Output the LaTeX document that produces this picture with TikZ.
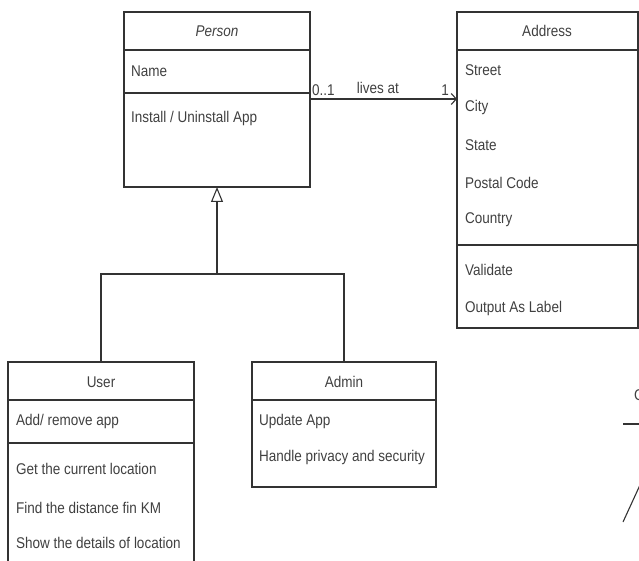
\documentclass[tikz,border=0pt]{standalone}
\usepackage{fontspec}
\setmainfont{Liberation Sans}
\usetikzlibrary{positioning,arrows.meta}

\begin{document}
\begin{tikzpicture}[x=1pt,y=-1pt,>={Straight Barb[length=5pt,width=11pt]},
  cls/.style={draw=black!80,line width=1.1pt,inner sep=0pt,outer sep=0pt,anchor=north west},
  txt/.style={text=black!75,font=\fontsize{13.5}{16}\selectfont,inner sep=0pt,yscale=1.15,transform shape},
  item/.style={txt,anchor=west},
  sep/.style={draw=black!80,line width=1.1pt}]
\useasboundingbox (0,0) rectangle (639,561);
% class boxes
\node[cls,minimum width=186pt,minimum height=175pt] (person) at (124,12) {};
\node[cls,minimum width=181pt,minimum height=316pt] (address) at (457,12) {};
\node[cls,minimum width=186pt,minimum height=230pt] (user) at (8,362) {};
\node[cls,minimum width=184pt,minimum height=125pt] (admin) at (252,362) {};
% compartments
\draw[sep] (person.west |- 0,50) -- (person.east |- 0,50);
\draw[sep] (person.west |- 0,93) -- (person.east |- 0,93);
\draw[sep] (address.west |- 0,50) -- (address.east |- 0,50);
\draw[sep] (address.west |- 0,245) -- (address.east |- 0,245);
\draw[sep] (user.west |- 0,400) -- (user.east |- 0,400);
\draw[sep] (user.west |- 0,443) -- (user.east |- 0,443);
\draw[sep] (admin.west |- 0,400) -- (admin.east |- 0,400);
% texts
\node[txt,font=\fontsize{13.5}{16}\selectfont\itshape] (personT) at (217,31) {Person};
\node[item] (pName) at (131,71) {Name};
\node[item] (pInst) at (131,118) {Install / Uninstall App};
\node[txt] (addressT) at (547,31) {Address};
\node[item] (aStreet) at (465,70) {Street};
\node[item] (aCity) at (465,107) {City};
\node[item] (aState) at (465,145) {State};
\node[item] (aPost) at (465,183) {Postal Code};
\node[item] (aCountry) at (465,220) {Country};
\node[item] (aValid) at (465,270) {Validate};
\node[item] (aLabel) at (465,308) {Output As Label};
\node[txt] (userT) at (101,382) {User};
\node[item] (uAdd) at (16,421) {Add/ remove app};
\node[item] (uGet) at (16,469) {Get the current location};
\node[item] (uFind) at (16,508) {Find the distance fin KM};
\node[item] (uShow) at (16,543) {Show the details of location};
\node[txt] (adminT) at (344,382) {Admin};
\node[item] (dUpd) at (259,421) {Update App};
\node[item] (dPriv) at (259,457) {Handle privacy and security};
% association
\coordinate (liveS) at (person.east |- 0,99);
\coordinate (liveE) at (address.west |- 0,99);
\draw[->,draw=black!80,line width=1.1pt] (liveS) -- (liveE);
\node[txt,anchor=south west] (mult0) at (312,96) {0..1};
\node[txt] (lives) at (378,88) {lives at};
\node[txt,anchor=south east] (mult1) at (449,96) {1};
% generalization
\coordinate (fork) at (217,274);
\draw[draw=black!80,line width=1.1pt] (user.north) |- (fork) -| (admin.north);
\draw[-{Triangle[open,length=15pt,width=12pt]},draw=black!80,line width=1.1pt] (fork) -- (person.south);
% cut-off parts at the right edge
\node[txt,anchor=west] (cut) at (634,395) {C};
\draw[draw=black!80,line width=1.1pt] (623,424) -- (640,424);
\draw[draw=black!80,line width=1.1pt] (623,522) -- (640,485);
\end{tikzpicture}
\end{document}
